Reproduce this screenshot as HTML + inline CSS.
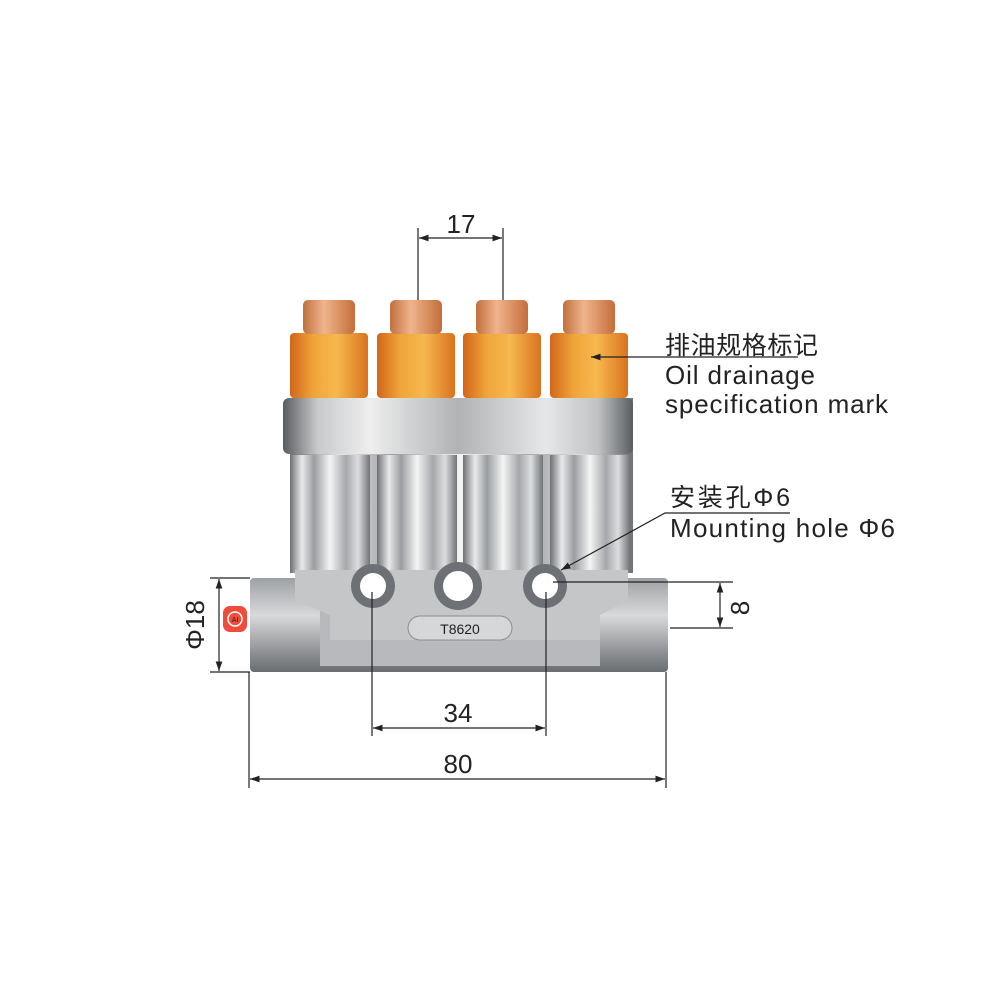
<!DOCTYPE html>
<html><head><meta charset="utf-8"><style>
body{margin:0;background:#fff}
svg{display:block}
text{font-family:"Liberation Sans","Noto Sans CJK SC",sans-serif;fill:#222}
</style></head><body>
<svg width="1000" height="1000" viewBox="0 0 1000 1000">
<defs>
<linearGradient id="sil" x1="0" x2="1" y1="0" y2="0">
<stop offset="0" stop-color="#6e7174"/><stop offset="0.15" stop-color="#e8e9ea"/><stop offset="0.3" stop-color="#9a9da0"/><stop offset="0.5" stop-color="#f4f4f4"/><stop offset="0.7" stop-color="#a5a7aa"/><stop offset="0.85" stop-color="#dcdddf"/><stop offset="1" stop-color="#707376"/>
</linearGradient>
<linearGradient id="ring" x1="0" x2="1">
<stop offset="0" stop-color="#5a5d60"/><stop offset="0.1" stop-color="#c9cacc"/><stop offset="0.25" stop-color="#eeeeee"/><stop offset="0.5" stop-color="#b0b2b4"/><stop offset="0.75" stop-color="#e6e7e8"/><stop offset="0.9" stop-color="#c0c2c4"/><stop offset="1" stop-color="#5a5d60"/>
</linearGradient>
<linearGradient id="base" x1="0" x2="0" y1="0" y2="1">
<stop offset="0" stop-color="#9ea1a4"/><stop offset="0.4" stop-color="#d8d9db"/><stop offset="0.8" stop-color="#8c8f92"/><stop offset="1" stop-color="#6a6d70"/>
</linearGradient>
<linearGradient id="org" x1="0" x2="1">
<stop offset="0" stop-color="#d2661a"/><stop offset="0.3" stop-color="#f0a43a"/><stop offset="0.6" stop-color="#f6b84e"/><stop offset="1" stop-color="#d9731f"/>
</linearGradient>
<linearGradient id="nut" x1="0" x2="1">
<stop offset="0" stop-color="#c0703e"/><stop offset="0.4" stop-color="#f0b48c"/><stop offset="1" stop-color="#c46e3a"/>
</linearGradient>
<marker id="ar" viewBox="0 0 10 10" refX="10" refY="5" markerWidth="8" markerHeight="8" orient="auto-start-reverse"><path d="M0,1.5L10,5L0,8.5z" fill="#222"/></marker>
</defs>

<rect x="250" y="578" width="418" height="94" rx="4" fill="url(#base)"/>
<rect x="320" y="600" width="280" height="66" fill="#b7b9bc"/>
<rect x="290" y="398" width="343" height="175" fill="url(#sil)"/>
<rect x="283" y="398" width="350" height="56" rx="6" fill="url(#ring)"/>
<g fill="url(#sil)">
<rect x="290" y="455" width="80" height="118"/>
<rect x="377" y="455" width="80" height="118"/>
<rect x="463" y="455" width="80" height="118"/>
<rect x="550" y="455" width="80" height="118"/>
</g>
<path d="M295 570 L628 570 L628 600 L600 615 L600 640 L330 640 L330 615 L295 600 Z" fill="#c4c6c8"/>
<g>
<circle cx="373" cy="586" r="22" fill="#6d7074"/><circle cx="373" cy="586" r="13" fill="#fff"/>
<circle cx="458" cy="586" r="24" fill="#6d7074"/><circle cx="458" cy="586" r="15" fill="#fff"/>
<circle cx="545" cy="586" r="22" fill="#6d7074"/><circle cx="545" cy="586" r="13" fill="#fff"/>
</g>
<rect x="408" y="616" width="104" height="24" rx="12" fill="#d6d7d9" stroke="#8a8d90"/>
<text x="460" y="634" font-size="14" text-anchor="middle" fill="#555" font-family="Liberation Mono,monospace">T8620</text>
<g>
<rect x="290" y="333" width="78" height="65" rx="4" fill="url(#org)"/>
<rect x="377" y="333" width="78" height="65" rx="4" fill="url(#org)"/>
<rect x="463" y="333" width="78" height="65" rx="4" fill="url(#org)"/>
<rect x="550" y="333" width="78" height="65" rx="4" fill="url(#org)"/>
<rect x="303" y="300" width="52" height="34" rx="5" fill="url(#nut)"/>
<rect x="390" y="300" width="52" height="34" rx="5" fill="url(#nut)"/>
<rect x="476" y="300" width="52" height="34" rx="5" fill="url(#nut)"/>
<rect x="563" y="300" width="52" height="34" rx="5" fill="url(#nut)"/>
</g>
<rect x="223" y="606" width="24" height="26" rx="7" fill="#f04c3c"/>
<circle cx="235" cy="619" r="7" fill="none" stroke="#fff" stroke-width="1.5"/>
<text x="235" y="622" font-size="7" fill="#fff" text-anchor="middle">AI</text>

<g stroke="#222" stroke-width="1.2" fill="none">
<line x1="418" y1="228" x2="418" y2="300"/><line x1="503" y1="228" x2="503" y2="300"/>
<line x1="419" y1="238" x2="502" y2="238" marker-start="url(#ar)" marker-end="url(#ar)"/>
<line x1="210" y1="578" x2="250" y2="578"/><line x1="210" y1="672" x2="250" y2="672"/>
<line x1="219" y1="579" x2="219" y2="671" marker-start="url(#ar)" marker-end="url(#ar)"/>
<line x1="553" y1="582" x2="733" y2="582"/><line x1="670" y1="628" x2="733" y2="628"/>
<line x1="720" y1="583" x2="720" y2="627" marker-start="url(#ar)" marker-end="url(#ar)"/>
<line x1="372" y1="592" x2="372" y2="736"/><line x1="546" y1="592" x2="546" y2="736"/>
<line x1="373" y1="728" x2="545" y2="728" marker-start="url(#ar)" marker-end="url(#ar)"/>
<line x1="249" y1="672" x2="249" y2="788"/><line x1="666" y1="672" x2="666" y2="788"/>
<line x1="250" y1="779" x2="665" y2="779" marker-start="url(#ar)" marker-end="url(#ar)"/>
<line x1="798" y1="357" x2="591" y2="357" marker-end="url(#ar)"/>
<polyline points="790,513 665,513 561,570" marker-end="url(#ar)"/>
</g>

<text x="461" y="233" font-size="26" text-anchor="middle">17</text>
<text x="458" y="722" font-size="26" text-anchor="middle">34</text>
<text x="458" y="773" font-size="26" text-anchor="middle">80</text>
<text transform="translate(204,625) rotate(-90)" font-size="26" text-anchor="middle">Φ18</text>
<text transform="translate(749,608) rotate(-90)" font-size="26" text-anchor="middle">8</text>
<text x="665" y="354" font-size="25" textLength="153">排油规格标记</text>
<text x="665" y="384" font-size="26" textLength="150">Oil drainage</text>
<text x="665" y="413" font-size="26" textLength="223">specification mark</text>
<text x="670" y="506" font-size="25" textLength="120">安装孔Φ6</text>
<text x="670" y="537" font-size="26" textLength="225">Mounting hole Φ6</text>
</svg>
</body></html>
